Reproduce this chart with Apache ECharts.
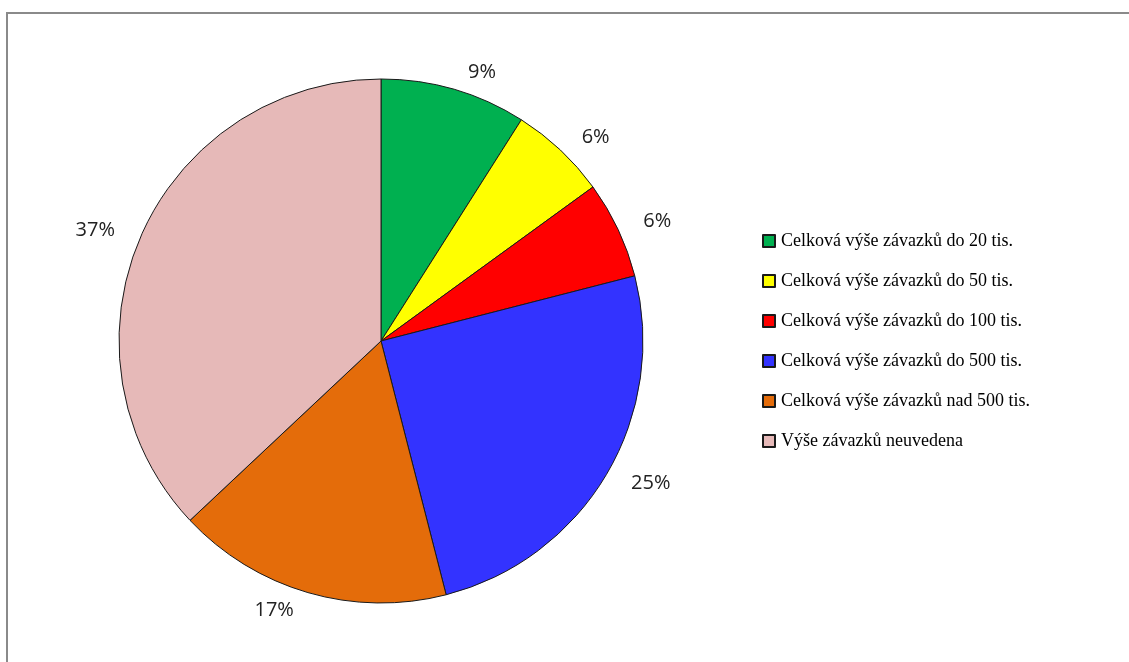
<!DOCTYPE html>
<html>
<head>
<meta charset="utf-8">
<title>Celková výše závazků</title>
<script src="https://cdn.jsdelivr.net/npm/echarts@6/dist/echarts.min.js"></script>
<style>
  html, body { margin: 0; padding: 0; background: #ffffff; }
  #chart { width: 1129px; height: 662px; }
</style>
</head>
<body>
<div id="chart"></div>
<script>
// Share of debtors by total amount of liabilities (percent)
const categories = [
  'Celková výše závazků do 20 tis.',
  'Celková výše závazků do 50 tis.',
  'Celková výše závazků do 100 tis.',
  'Celková výše závazků do 500 tis.',
  'Celková výše závazků nad 500 tis.',
  'Výše závazků neuvedena'
];
const shares = [9, 6, 6, 25, 17, 37];
const sliceColors = ['#00B050', '#FFFF00', '#FF0000', '#3333FF', '#E46C0A', '#E6B9B8'];

const chart = echarts.init(document.getElementById('chart'), null, { renderer: 'canvas' });

chart.setOption({
  backgroundColor: '#ffffff',
  animation: false,
  graphic: [{
    type: 'rect',
    shape: { x: 7, y: 13, width: 1140, height: 670 },
    style: { fill: 'none', stroke: '#8a8a8a', lineWidth: 2 },
    silent: true,
    z: 0
  }],
  legend: {
    orient: 'vertical',
    left: 757,
    top: 227,
    itemWidth: 12,
    itemHeight: 12,
    itemGap: 22,
    icon: 'rect',
    textStyle: {
      fontFamily: '"Liberation Serif", "Times New Roman", serif',
      fontSize: 18,
      color: '#000000',
      padding: [0, 0, 0, 1]
    },
    data: categories
  },
  series: [{
    type: 'pie',
    center: [381, 341],
    radius: 262,
    startAngle: 90,
    clockwise: true,
    avoidLabelOverlap: false,
    itemStyle: { borderColor: '#1a1a1a', borderWidth: 1 },
    label: {
      show: true,
      position: 'outside',
      formatter: p => p.value + '%',
      fontFamily: '"Open Sans", sans-serif',
      fontSize: 20,
      color: '#222222'
    },
    labelLine: { show: false, length: 18, length2: 4 },
    emphasis: { disabled: true },
    data: categories.map((name, i) => ({
      name: name,
      value: shares[i],
      itemStyle: { color: sliceColors[i] }
    }))
  }]
});
</script>
</body>
</html>
